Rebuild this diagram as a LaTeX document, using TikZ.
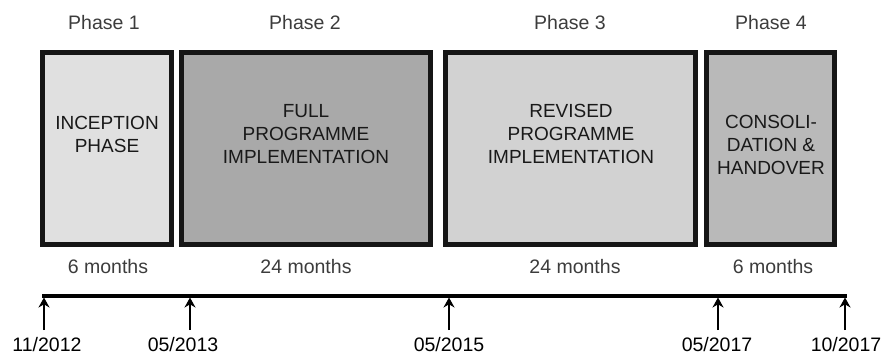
\documentclass[tikz,border=0pt]{standalone}
\usepackage{fontspec}
\setmainfont{Liberation Sans}
\usetikzlibrary{arrows.meta}
\definecolor{fillA}{HTML}{E0E0E0}
\definecolor{fillB}{HTML}{A9A9A9}
\definecolor{fillC}{HTML}{D2D2D2}
\definecolor{fillD}{HTML}{B9B9B9}
\definecolor{edgeK}{HTML}{161616}
\definecolor{labG}{HTML}{3C3C3C}
\tikzset{
  phasebox/.style={draw=edgeK, line width=5pt, inner sep=0pt},
  boxtext/.style={align=center, inner sep=0pt, text=black!90, font=\fontsize{19}{23}\selectfont},
  phaselab/.style={anchor=base, inner sep=0pt, text=labG, font=\fontsize{19.5}{22}\selectfont},
  monthlab/.style={anchor=base, inner sep=0pt, text=labG, font=\fontsize{19.5}{22}\selectfont},
  datelab/.style={anchor=base, inner sep=0pt, text=black, font=\fontsize{19.5}{22}\selectfont},
  timeline/.style={line width=4pt, draw=black},
  tickarrow/.style={line width=2.5pt, -{Stealth[length=10pt,width=11pt]}},
}
\begin{document}
\begin{tikzpicture}[x=1pt,y=-1pt]
\useasboundingbox (0,0) rectangle (882,354);
% boxes
\node[phasebox, fill=fillA, minimum width=129pt, minimum height=192pt] (b1) at (107,148.5) {};
\node[phasebox, fill=fillB, minimum width=249pt, minimum height=192pt] (b2) at (306,148.5) {};
\node[phasebox, fill=fillC, minimum width=250pt, minimum height=192pt] (b3) at (570.5,148.5) {};
\node[phasebox, fill=fillD, minimum width=128pt, minimum height=192pt] (b4) at (770.5,148.5) {};
% box texts
\node[boxtext] (x1) at (107,134.5) {INCEPTION\\PHASE};
\node[boxtext] (x2) at (306,134) {FULL\\PROGRAMME\\IMPLEMENTATION};
\node[boxtext] (x3) at (571,134) {REVISED\\PROGRAMME\\IMPLEMENTATION};
\node[boxtext] (x4) at (771,145) {CONSOLI-\\DATION \&\\HANDOVER};
% phase labels
\node[phaselab] (p1) at (104,29) {Phase 1};
\node[phaselab] (p2) at (305,29) {Phase 2};
\node[phaselab] (p3) at (570,29) {Phase 3};
\node[phaselab] (p4) at (771,29) {Phase 4};
% durations
\node[monthlab] (m1) at (108,273) {6 months};
\node[monthlab] (m2) at (306,273) {24 months};
\node[monthlab] (m3) at (575,273) {24 months};
\node[monthlab] (m4) at (773,273) {6 months};
% timeline
\coordinate (l0) at (42,296);
\coordinate (l1) at (847,296);
\draw[timeline] (l0) -- (l1);
\coordinate (t1) at (44,297.5);
\coordinate (t2) at (190,297.5);
\coordinate (t3) at (449,297.5);
\coordinate (t4) at (718,297.5);
\coordinate (t5) at (845,297.5);
\coordinate (s1) at (44,330);
\coordinate (s2) at (190,330);
\coordinate (s3) at (449,330);
\coordinate (s4) at (718,330);
\coordinate (s5) at (845,330);
\foreach \i in {1,...,5} { \draw[tickarrow] (s\i) -- (t\i); }
% dates
\node[datelab] (d1) at (47,351) {11/2012};
\node[datelab] (d2) at (183,351) {05/2013};
\node[datelab] (d3) at (449,351) {05/2015};
\node[datelab] (d4) at (717,351) {05/2017};
\node[datelab] (d5) at (846,351) {10/2017};
\end{tikzpicture}
\end{document}
